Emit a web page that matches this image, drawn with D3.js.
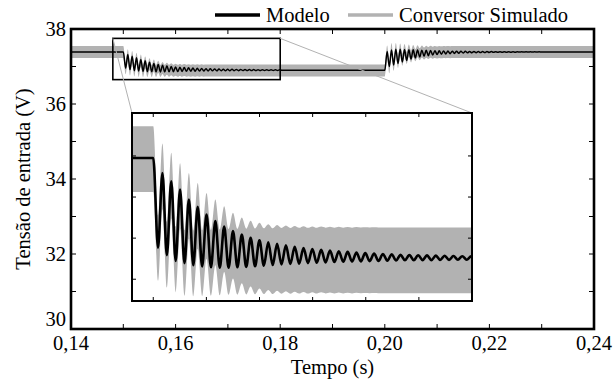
<!DOCTYPE html>
<html><head><meta charset="utf-8">
<script src="https://cdn.jsdelivr.net/npm/d3@7"></script>
<style>
body{margin:0;background:#fff}
svg{display:block}
</style>
</head><body>
<svg id="c" width="616" height="379"></svg>
<script>
// ---------------- data ----------------
const xTickValues = [0.14,0.15,0.16,0.17,0.18,0.19,0.20,0.21,0.22,0.23,0.24];
const xTickLabelValues = [0.14,0.16,0.18,0.20,0.22,0.24];
const xTickLabels = ["0,14","0,16","0,18","0,20","0,22","0,24"];
const yTickValues = [30,31,32,33,34,35,36,37,38];
const yTickLabelValues = [30,32,34,36,38];
const yTickLabels = ["30","32","34","36","38"];
const insetXTicks = [0.150,0.155,0.160,0.165,0.170,0.175];
const insetYTicks = [36.8,37.0,37.2,37.4];

const seriesNames = ["Modelo","Conversor Simulado"];
const stepTimes = [0.15, 0.20];       // load steps (s)
const firstExtremumDelay = 0.00045;   // s after each step
const halfPeriod = 0.000415;          // s between successive extrema
const modelHigh = 37.39, modelLow = 36.90;   // V
const simHigh = 37.385, simLow = 36.892;     // V
const ripple = 0.16;                  // switching ripple half-width (V)

// Transient 1 (step down at 0.15 s): trough, peak, trough, peak ...
const modelTroughs1 = [36.954,36.917,36.889,36.878,36.868,36.862,36.858,36.856,36.856,36.858,36.860,36.863,
  36.866,36.869,36.872,36.874,36.876,36.878,36.880,36.882,36.884,36.885,36.886,36.887,36.888,36.889,36.890,
  36.891,36.892,36.892,36.893,36.893,36.894,36.894,36.895,36.895];
const modelPeaks1 = [37.317,37.276,37.236,37.188,37.152,37.115,37.083,37.056,37.034,37.018,37.002,36.990,
  36.980,36.972,36.965,36.958,36.952,36.947,36.943,36.939,36.936,36.933,36.930,36.927,36.925,36.923,36.921,
  36.919,36.918,36.917,36.916,36.915,36.914,36.913,36.912,36.911];
const simTroughs1 = [36.952,36.920,36.896,36.879,36.877,36.878,36.880,36.882,36.884,36.885,36.886,36.887,
  36.888,36.888,36.889,36.889,36.890,36.890,36.890,36.891,36.891,36.891,36.891,36.892,36.892,36.892];
const simPeaks1 = [37.300,37.255,37.205,37.157,37.108,37.060,37.028,36.995,36.963,36.940,36.925,36.915,
  36.908,36.904,36.901,36.899,36.898,36.897,36.896,36.895,36.895,36.894,36.894,36.893,36.893,36.892];

// Transient 2 (step up at 0.20 s): peak, trough, peak, trough ...
const modelPeaks2 = [37.400,37.440,37.460,37.460,37.455,37.450,37.445,37.440,37.435,37.430,37.426,37.422,
  37.418,37.415,37.412,37.410,37.408,37.406,37.404,37.402,37.401,37.400,37.399,37.398,37.397,37.396,37.395,
  37.395,37.394,37.394,37.393,37.393,37.392,37.392,37.391,37.391];
const modelTroughs2 = [37.000,37.040,37.080,37.120,37.160,37.200,37.230,37.255,37.275,37.290,37.305,37.318,
  37.328,37.336,37.343,37.350,37.355,37.360,37.364,37.367,37.370,37.372,37.374,37.376,37.378,37.379,37.380,
  37.381,37.382,37.383,37.384,37.385,37.385,37.386,37.386,37.387];
const simPeaks2 = [37.400,37.470,37.470,37.455,37.440,37.425,37.413,37.404,37.398,37.394,37.391,37.389,
  37.388,37.387,37.386,37.386,37.386,37.385,37.385,37.385];
const simTroughs2 = [36.980,37.050,37.120,37.180,37.230,37.270,37.300,37.325,37.345,37.360,37.370,37.376,
  37.380,37.382,37.383,37.384,37.384,37.385,37.385,37.385];

// zoomed window shown in the inset
const zoomT = [0.148, 0.18];
const zoomV = [36.65, 37.75];
const insetV = [36.694, 37.609];

// ---------------- build series ----------------
function transient(t0, firstKind, secondKind) {
  const pts = [];
  const n = Math.max(firstKind.length, secondKind.length);
  let k = 0;
  for (let i = 0; i < n; i++) {
    if (i < firstKind.length) { pts.push([t0 + firstExtremumDelay + k*halfPeriod, firstKind[i]]); k++; }
    if (i < secondKind.length) { pts.push([t0 + firstExtremumDelay + k*halfPeriod, secondKind[i]]); k++; }
  }
  return {pts, tEnd: t0 + firstExtremumDelay + k*halfPeriod};
}
function series(high, low, a1, b1, a2, b2) {
  const tr1 = transient(stepTimes[0], a1, b1);
  const tr2 = transient(stepTimes[1], a2, b2);
  return [[0.14, high],[stepTimes[0], high], ...tr1.pts, [tr1.tEnd, low],
          [stepTimes[1], low], ...tr2.pts, [tr2.tEnd, high], [0.24, high]];
}
const modelData = series(modelHigh, modelLow, modelTroughs1, modelPeaks1, modelPeaks2, modelTroughs2);
const simData = series(simHigh, simLow, simTroughs1, simPeaks1, simPeaks2, simTroughs2);

// ---------------- layout ----------------
const M = {left:71, right:594, top:29, bottom:329};
const I = {left:132, right:472, top:113, bottom:301};
const gray = "#b2b2b2";
const FONT = '"Liberation Serif"';
const fs = 20.5;

const svg = d3.select("#c");
const x = d3.scaleLinear().domain([0.14,0.24]).range([M.left, M.right]);
const y = d3.scaleLinear().domain([30,38]).range([M.bottom, M.top]);
const xi = d3.scaleLinear().domain(zoomT).range([I.left, I.right]);
const yi = d3.scaleLinear().domain(insetV).range([I.bottom, I.top]);

const defs = svg.append("defs");
defs.append("clipPath").attr("id","cm").append("rect")
  .attr("x",M.left).attr("y",M.top).attr("width",M.right-M.left).attr("height",M.bottom-M.top);
defs.append("clipPath").attr("id","ci").append("rect")
  .attr("x",I.left).attr("y",I.top).attr("width",I.right-I.left).attr("height",I.bottom-I.top);

function drawData(g, xs, ys, lw) {
  const area = d3.area().x(d=>xs(d[0])).y0(d=>ys(d[1]-ripple)).y1(d=>ys(d[1]+ripple)).curve(d3.curveMonotoneX);
  const line = d3.line().x(d=>xs(d[0])).y(d=>ys(d[1])).curve(d3.curveMonotoneX);
  g.append("path").datum(simData).attr("d",area).attr("fill",gray).attr("stroke","none");
  g.append("path").datum(modelData).attr("d",line).attr("fill","none").attr("stroke","#000")
    .attr("stroke-width",lw).attr("stroke-linejoin","round");
}

// main data
drawData(svg.append("g").attr("clip-path","url(#cm)"), x, y, 1.5);

// zoom rectangle
svg.append("rect").attr("x",x(zoomT[0])).attr("y",y(zoomV[1]))
  .attr("width",x(zoomT[1])-x(zoomT[0])).attr("height",y(zoomV[0])-y(zoomV[1]))
  .attr("fill","none").attr("stroke","#000").attr("stroke-width",1.6);
// connectors
svg.append("line").attr("x1",x(zoomT[0])).attr("y1",y(zoomV[1])).attr("x2",I.left).attr("y2",I.top)
  .attr("stroke",gray).attr("stroke-width",1);
svg.append("line").attr("x1",x(zoomT[1])).attr("y1",y(zoomV[1])).attr("x2",I.right).attr("y2",I.top)
  .attr("stroke",gray).attr("stroke-width",1);

// inset
svg.append("rect").attr("x",I.left).attr("y",I.top).attr("width",I.right-I.left).attr("height",I.bottom-I.top)
  .attr("fill","#fff");
drawData(svg.append("g").attr("clip-path","url(#ci)"), xi, yi, 2.6);
const gi = svg.append("g");
gi.selectAll(".itx").data(insetXTicks).join("path")
  .attr("d",d=>`M${xi(d)},${I.top}v4M${xi(d)},${I.bottom}v-4`).attr("stroke","#000").attr("stroke-width",1);
gi.selectAll(".ity").data(insetYTicks).join("path")
  .attr("d",d=>`M${I.left},${yi(d)}h4M${I.right},${yi(d)}h-4`).attr("stroke","#000").attr("stroke-width",1);
gi.append("rect").attr("x",I.left).attr("y",I.top).attr("width",I.right-I.left).attr("height",I.bottom-I.top)
  .attr("fill","none").attr("stroke","#000").attr("stroke-width",2);

// main axes ticks (inward, all sides)
const ga = svg.append("g");
ga.selectAll(".tx").data(xTickValues).join("path")
  .attr("d",d=>`M${x(d)},${M.bottom}v-5M${x(d)},${M.top}v5`).attr("stroke","#000").attr("stroke-width",1);
ga.selectAll(".ty").data(yTickValues).join("path")
  .attr("d",d=>`M${M.left},${y(d)}h5M${M.right},${y(d)}h-5`).attr("stroke","#000").attr("stroke-width",1);
ga.append("rect").attr("x",M.left).attr("y",M.top).attr("width",M.right-M.left).attr("height",M.bottom-M.top)
  .attr("fill","none").attr("stroke","#000").attr("stroke-width",2.6);

ga.selectAll(".xl").data(xTickLabelValues).join("text")
  .attr("x",d=>x(d)).attr("y",M.bottom+21).attr("text-anchor","middle").attr("font-size",fs)
  .style("font-family",FONT).text((d,i)=>xTickLabels[i]);
ga.selectAll(".yl").data(yTickLabelValues).join("text")
  .attr("x",M.left-5).attr("y",d=>y(d)+(d===30?-3:7)).attr("text-anchor","end").attr("font-size",fs)
  .style("font-family",FONT).text((d,i)=>yTickLabels[i]);
ga.append("text").attr("x",(M.left+M.right)/2).attr("y",M.bottom+45).attr("text-anchor","middle")
  .attr("font-size",fs).style("font-family",FONT).text("Tempo (s)");
ga.append("text").attr("transform",`translate(30,${(M.top+M.bottom)/2}) rotate(-90)`)
  .attr("text-anchor","middle").attr("font-size",fs).style("font-family",FONT).text("Tensão de entrada (V)");

// legend
const lg = svg.append("g");
const legendItems = [{name:seriesNames[0], color:"#000", x:215},{name:seriesNames[1], color:gray, x:348}];
lg.selectAll("line").data(legendItems).join("line")
  .attr("x1",d=>d.x).attr("x2",d=>d.x+45).attr("y1",15).attr("y2",15)
  .attr("stroke",d=>d.color).attr("stroke-width",3.5);
lg.selectAll("text").data(legendItems).join("text")
  .attr("x",d=>d.x+51).attr("y",22).attr("font-size",fs).style("font-family",FONT).text(d=>d.name);
</script>
</body></html>
